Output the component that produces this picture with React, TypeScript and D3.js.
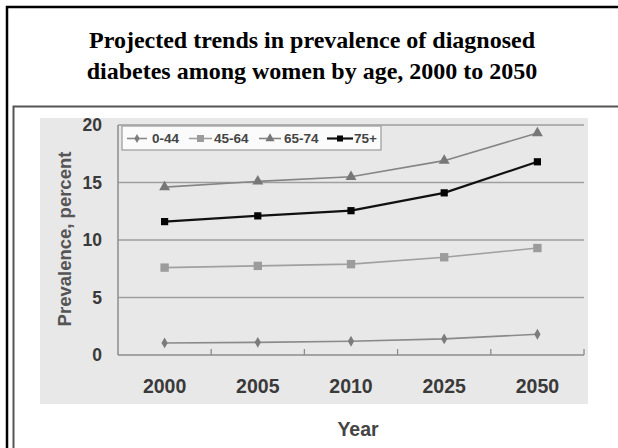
import React from "react";
import * as d3 from "d3";

const years = ["2000", "2005", "2010", "2025", "2050"];
const seriesNames = ["0-44", "45-64", "65-74", "75+"];
const age0to44 = [1.05, 1.1, 1.2, 1.4, 1.8];
const age45to64 = [7.6, 7.75, 7.9, 8.5, 9.3];
const age65to74 = [14.6, 15.1, 15.5, 16.9, 19.3];
const age75plus = [11.6, 12.1, 12.55, 14.1, 16.8];
const yTicks = [0, 5, 10, 15, 20];

const titleLines = [
  "Projected trends in prevalence of diagnosed",
  "diabetes among women by age, 2000 to 2050",
];

type Style = {
  symbol: d3.SymbolType;
  size: number;
  line: string;
  fill: string;
  width: number;
};

const styles: Style[] = [
  { symbol: d3.symbolDiamond, size: 34, line: "#8a8a8a", fill: "#7c7c7c", width: 1.6 },
  { symbol: d3.symbolSquare, size: 70, line: "#a0a0a0", fill: "#9c9c9c", width: 1.6 },
  { symbol: d3.symbolTriangle, size: 52, line: "#858585", fill: "#777777", width: 1.6 },
  { symbol: d3.symbolSquare, size: 52, line: "#111111", fill: "#050505", width: 2.2 },
];

const seriesValues = [age0to44, age45to64, age65to74, age75plus];

const W = 618;
const H = 448;
const plot = { left: 118, right: 584, top: 125, bottom: 355 };

export default function App() {
  const x = d3.scaleBand<string>().domain(years).range([plot.left, plot.right]);
  const y = d3.scaleLinear().domain([0, 20]).range([plot.bottom, plot.top]);
  const cx = (yr: string) => (x(yr) ?? 0) + x.bandwidth() / 2;

  const line = d3
    .line<number>()
    .x((_, i) => cx(years[i]))
    .y((v) => y(v));

  const sans = "Arial, 'Liberation Sans', Helvetica, sans-serif";

  // legend layout: line start, line end, label x
  const legendItems = [
    { x0: 127, x1: 147, tx: 152 },
    { x0: 189, x1: 212, tx: 214 },
    { x0: 259, x1: 281, tx: 284 },
    { x0: 327, x1: 353, tx: 354 },
  ];
  const legendY = 138.5;

  return (
    <div style={{ position: "fixed", left: 0, top: 0, width: W, height: H, background: "#fff" }}>
      <svg width={W} height={H} viewBox={`0 0 ${W} ${H}`} style={{ display: "block" }}>
        <rect x={0} y={0} width={W} height={H} fill="#ffffff" />

        {/* outer frame and chart frame */}
        <rect x={7} y={7} width={W + 20} height={H + 20} fill="none" stroke="#000" strokeWidth={2.5} />
        <rect x={13.5} y={106.5} width={W + 20} height={H + 20} fill="none" stroke="#555" strokeWidth={2} />

        {/* title */}
        <text
          fontFamily="'Times New Roman', 'Liberation Serif', serif"
          fontWeight="bold"
          fontSize={24}
          textAnchor="middle"
          fill="#000"
        >
          {titleLines.map((t, i) => (
            <tspan key={i} x={312} y={48 + i * 31}>
              {t}
            </tspan>
          ))}
        </text>

        {/* chart panel */}
        <rect x={40} y={118} width={548} height={286} fill="#e8e8e8" />

        {/* gridlines */}
        {yTicks.slice(1).map((t) => (
          <line
            key={t}
            x1={plot.left}
            x2={plot.right}
            y1={y(t)}
            y2={y(t)}
            stroke="#9e9e9e"
            strokeWidth={1.5}
          />
        ))}

        {/* axes */}
        <line x1={plot.left} x2={plot.left} y1={plot.top} y2={plot.bottom} stroke="#8c8c8c" strokeWidth={1.5} />
        <line x1={plot.left} x2={plot.right} y1={plot.bottom} y2={plot.bottom} stroke="#8c8c8c" strokeWidth={1.5} />
        {years.map((yr) => {
          const xt = (x(yr) ?? 0) + x.bandwidth();
          return (
            <line key={yr} x1={xt} x2={xt} y1={plot.bottom} y2={plot.bottom - 6} stroke="#8c8c8c" strokeWidth={1.3} />
          );
        })}

        {/* y tick labels */}
        {yTicks.map((t) => (
          <text
            key={t}
            x={102}
            y={y(t)}
            dy="0.35em"
            textAnchor="end"
            fontFamily={sans}
            fontWeight="bold"
            fontSize={17.5}
            fill="#3a3a3a"
          >
            {t}
          </text>
        ))}

        {/* x tick labels */}
        {years.map((yr) => (
          <text
            key={yr}
            x={cx(yr)}
            y={393}
            textAnchor="middle"
            fontFamily={sans}
            fontWeight="bold"
            fontSize={19.5}
            fill="#3a3a3a"
          >
            {yr}
          </text>
        ))}

        {/* axis titles */}
        <text
          transform="translate(71,239) rotate(-90)"
          textAnchor="middle"
          fontFamily={sans}
          fontWeight="bold"
          fontSize={18.5}
          fill="#555"
        >
          Prevalence, percent
        </text>
        <text x={358} y={436} textAnchor="middle" fontFamily={sans} fontWeight="bold" fontSize={19.5} fill="#444">
          Year
        </text>

        {/* series */}
        {seriesValues.map((vals, si) => {
          const s = styles[si];
          const sym = d3.symbol().type(s.symbol).size(s.size)();
          return (
            <g key={seriesNames[si]}>
              <path d={line(vals) ?? ""} fill="none" stroke={s.line} strokeWidth={s.width} />
              {vals.map((v, i) => (
                <path key={i} d={sym ?? ""} transform={`translate(${cx(years[i])},${y(v)})`} fill={s.fill} />
              ))}
            </g>
          );
        })}

        {/* legend */}
        <rect x={122} y={126} width={259} height={24} fill="#fbfbfb" stroke="#a0a0a0" strokeWidth={1.3} />
        {legendItems.map((it, i) => {
          const s = styles[i];
          const sym = d3.symbol().type(s.symbol).size(s.size * 0.7)();
          const mx = (it.x0 + it.x1) / 2;
          return (
            <g key={seriesNames[i]}>
              <line x1={it.x0} x2={it.x1} y1={legendY} y2={legendY} stroke={s.line} strokeWidth={s.width} />
              <path d={sym ?? ""} transform={`translate(${mx},${legendY})`} fill={s.fill} />
              <text
                x={it.tx}
                y={legendY}
                dy="0.36em"
                fontFamily={sans}
                fontWeight="bold"
                fontSize={13.5}
                fill="#444"
              >
                {seriesNames[i]}
              </text>
            </g>
          );
        })}
      </svg>
    </div>
  );
}
